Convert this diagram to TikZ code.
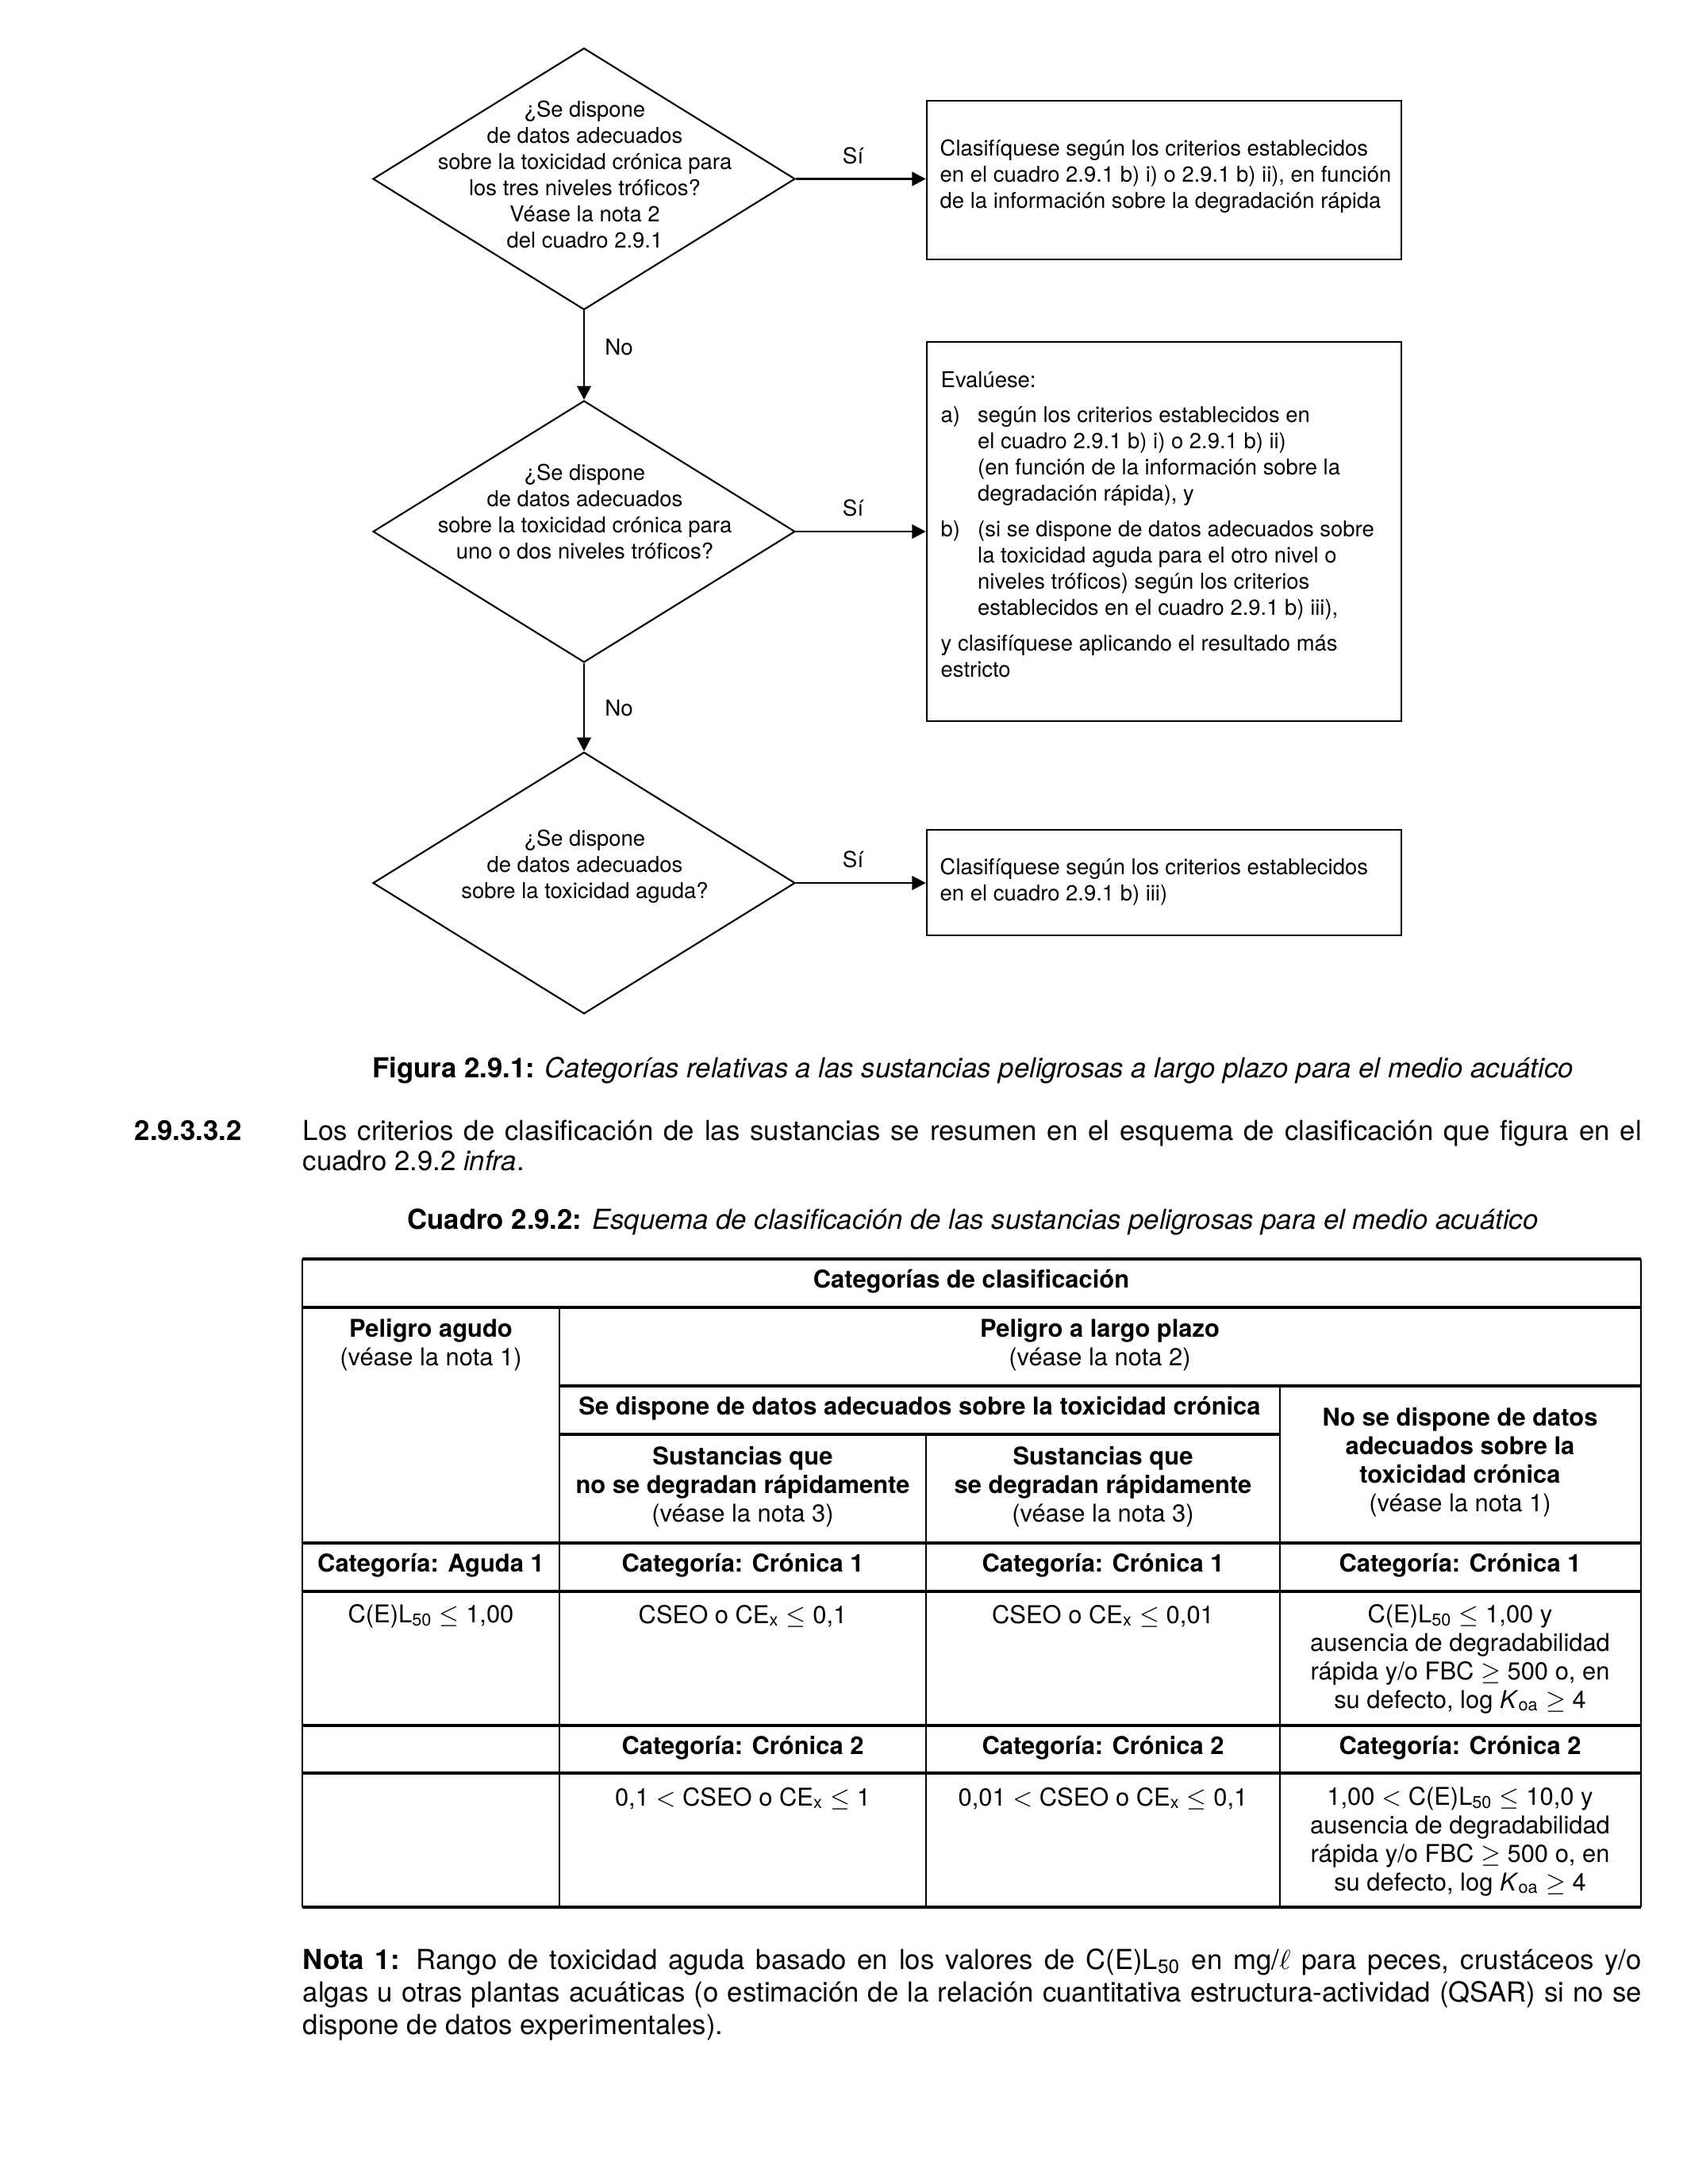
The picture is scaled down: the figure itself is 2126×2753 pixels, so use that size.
\documentclass[tikz,border=0pt]{standalone}
\usepackage{fontspec}
\setmainfont{TeX Gyre Heros}
\usetikzlibrary{shapes.geometric,arrows.meta}
\hyphenpenalty=10000
\exhyphenpenalty=10000
\begin{document}
\begin{tikzpicture}[x=0.288pt,y=-0.288pt,
 dia/.style={draw, diamond, minimum width=153.2pt, minimum height=95pt, inner sep=0pt, line width=0.6pt},
 box/.style={draw, rectangle, inner sep=0pt, line width=0.7pt, minimum width=172.2pt},
 fc/.style={font=\fontsize{7.9}{9.5}\selectfont, inner sep=0pt},
 arr/.style={line width=0.8pt, -{Triangle[length=5pt,width=5pt]}},
 lab/.style={font=\fontsize{8}{9.5}\selectfont, inner sep=0pt},
 tb/.style={font=\fontsize{8.9}{10.4}\selectfont, inner sep=0pt, align=center},
 hl/.style={line width=1pt},
 vl/.style={line width=0.6pt},
 body/.style={font=\fontsize{10}{11.2}\selectfont, inner sep=0pt}]
\fill[white] (0,0) rectangle (2126,2753);
\useasboundingbox (0,0) rectangle (2126,2753);

% ---------- flowchart ----------
\node[dia] (d1) at (736,225.5) {};
\node[dia] (d2) at (736,670) {};
\node[dia] (d3) at (736,1113) {};
\node[fc, align=center] (t1) at (737,220) {¿Se dispone\\de datos adecuados\\sobre la toxicidad crónica para\\los tres niveles tróficos?\\Véase la nota 2\\del cuadro 2.9.1};
\node[fc, align=center] (t2) at (737,645) {¿Se dispone\\de datos adecuados\\sobre la toxicidad crónica para\\uno o dos niveles tróficos?};
\node[fc, align=center] (t3) at (737,1092) {¿Se dispone\\de datos adecuados\\sobre la toxicidad aguda?};

\node[box, minimum height=57.6pt] (b1) at (1467,227) {};
\node[box, minimum height=137.7pt] (b2) at (1467,670) {};
\node[box, minimum height=38.3pt] (b3) at (1467,1112.5) {};

\node[fc, align=left, anchor=west] (bt1) at (1184,222) {Clasifíquese según los criterios establecidos\\en el cuadro 2.9.1 b) i) o 2.9.1 b) ii), en función\\de la información sobre la degradación rápida};
\node[fc, align=left, anchor=west] (bt2) at (1185,661) {Evalúese:\\[3.4pt]\makebox[13.4pt][l]{a)}según los criterios establecidos en\\\hspace*{13.4pt}el cuadro 2.9.1 b) i) o 2.9.1 b) ii)\\\hspace*{13.4pt}(en función de la información sobre la\\\hspace*{13.4pt}degradación rápida), y\\[3.4pt]\makebox[13.4pt][l]{b)}(si se dispone de datos adecuados sobre\\\hspace*{13.4pt}la toxicidad aguda para el otro nivel o\\\hspace*{13.4pt}niveles tróficos) según los criterios\\\hspace*{13.4pt}establecidos en el cuadro 2.9.1 b) iii),\\[3.4pt]y clasifíquese aplicando el resultado más\\estricto};
\node[fc, align=left, anchor=west] (bt3) at (1184,1112) {Clasifíquese según los criterios establecidos\\en el cuadro 2.9.1 b) iii)};

\draw[arr] (d1.east) -- (d1.east -| b1.west) node[lab, pos=.44, anchor=base, yshift=5.6pt] (s1) {Sí};
\draw[arr] (d2.east) -- (d2.east -| b2.west) node[lab, pos=.44, anchor=base, yshift=5.6pt] (s2) {Sí};
\draw[arr] (d3.east) -- (d3.east -| b3.west) node[lab, pos=.44, anchor=base, yshift=5.6pt] (s3) {Sí};
\draw[arr] (d1.south) -- (d2.north) node[lab, pos=.5, anchor=base west, xshift=7.2pt] (n1) {No};
\draw[arr] (d2.south) -- (d3.north) node[lab, pos=.6, anchor=base west, xshift=7.2pt] (n2) {No};

% ---------- captions and text ----------
\node[body, anchor=base] (cap1) at (1226,1358) {\textbf{Figura 2.9.1:} \textit{Categorías relativas a las sustancias peligrosas a largo plazo para el medio acuático}};
\node[body, anchor=base west] (sec) at (169,1437) {\textbf{2.9.3.3.2}};
\node[body, anchor=base west, text width=485.9pt, align=justify] (par) at (381,1437) {Los criterios de clasificación de las sustancias se resumen en el esquema de clasificación que figura en el\linebreak cuadro 2.9.2 \textit{infra}.};
\node[body, anchor=base] (cap2) at (1226,1549) {\textbf{Cuadro 2.9.2:} \textit{Esquema de clasificación de las sustancias peligrosas para el medio acuático}};

% ---------- table ----------
\draw[hl] (381,1587) -- (2068,1587);
\draw[hl] (381,1648) -- (2068,1648);
\draw[hl] (705,1747) -- (2068,1747);
\draw[hl] (705,1808) -- (1613,1808);
\draw[hl] (381,1945) -- (2068,1945);
\draw[hl] (381,2006) -- (2068,2006);
\draw[hl] (381,2175) -- (2068,2175);
\draw[hl] (381,2235) -- (2068,2235);
\draw[hl] (381,2404) -- (2068,2404);
\draw[vl] (381,1587) -- (381,2404);
\draw[vl] (2068,1587) -- (2068,2404);
\draw[vl] (705,1648) -- (705,2404);
\draw[vl] (1167,1808) -- (1167,2404);
\draw[vl] (1613,1747) -- (1613,2404);

\node[tb] (h0) at (1224,1615) {\textbf{Categorías de clasificación}};
\node[tb] (h1) at (543,1695) {\textbf{Peligro agudo}\\(véase la nota 1)};
\node[tb] (h2) at (1386,1695) {\textbf{Peligro a largo plazo}\\(véase la nota 2)};
\node[tb] (h3) at (1159,1775) {\textbf{Se dispone de datos adecuados sobre la toxicidad crónica}};
\node[tb] (h4) at (936,1874) {\textbf{Sustancias que}\\\textbf{no se degradan rápidamente}\\(véase la nota 3)};
\node[tb] (h5) at (1390,1874) {\textbf{Sustancias que}\\\textbf{se degradan rápidamente}\\(véase la nota 3)};
\node[tb] (h6) at (1840,1843) {\textbf{No se dispone de datos}\\\textbf{adecuados sobre la}\\\textbf{toxicidad crónica}\\(véase la nota 1)};

\node[tb] (c01) at (543,1973) {\textbf{Categoría: Aguda 1}};
\node[tb] (c11) at (936,1973) {\textbf{Categoría: Crónica 1}};
\node[tb] (c21) at (1390,1973) {\textbf{Categoría: Crónica 1}};
\node[tb] (c31) at (1840,1973) {\textbf{Categoría: Crónica 1}};

\node[tb] (v01) at (543,2037) {C(E)L\textsubscript{50} $\leq$ 1,00};
\node[tb] (v11) at (936,2037) {CSEO o CE\textsubscript{x} $\leq$ 0,1};
\node[tb] (v21) at (1390,2037) {CSEO o CE\textsubscript{x} $\leq$ 0,01};
\node[tb] (v31) at (1840,2091) {C(E)L\textsubscript{50} $\leq$ 1,00 y\\ausencia de degradabilidad\\rápida y/o FBC $\geq$ 500 o, en\\su defecto, log \textit{K}\textsubscript{oa} $\geq$ 4};

\node[tb] (c12) at (936,2203) {\textbf{Categoría: Crónica 2}};
\node[tb] (c22) at (1390,2203) {\textbf{Categoría: Crónica 2}};
\node[tb] (c32) at (1840,2203) {\textbf{Categoría: Crónica 2}};

\node[tb] (v12) at (936,2267) {0,1 $<$ CSEO o CE\textsubscript{x} $\leq$ 1};
\node[tb] (v22) at (1390,2267) {0,01 $<$ CSEO o CE\textsubscript{x} $\leq$ 0,1};
\node[tb] (v32) at (1840,2321) {1,00 $<$ C(E)L\textsubscript{50} $\leq$ 10,0 y\\ausencia de degradabilidad\\rápida y/o FBC $\geq$ 500 o, en\\su defecto, log \textit{K}\textsubscript{oa} $\geq$ 4};

% ---------- note ----------
\node[body, font=\fontsize{10}{11.9}\selectfont, anchor=base west, text width=485.9pt, align=justify] (nota) at (381,2482) {\textbf{Nota 1:}\hspace{0.6em}Rango de toxicidad aguda basado en los valores de C(E)L\textsubscript{50} en mg/$\ell$ para peces, crustáceos y/o\linebreak algas u otras plantas acuáticas (o estimación de la relación cuantitativa estructura-actividad (QSAR) si no se\linebreak dispone de datos experimentales).};
\end{tikzpicture}
\end{document}
